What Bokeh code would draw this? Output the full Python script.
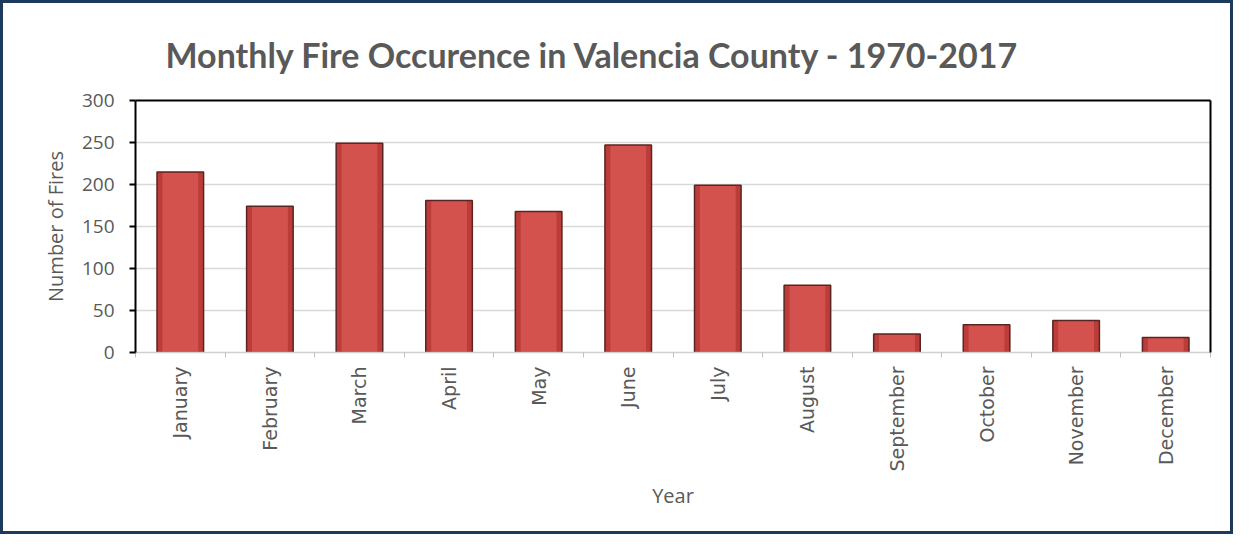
import math
from bokeh.plotting import figure
from bokeh.models import Range1d, FixedTicker, LinearAxis, ColumnDataSource
from bokeh.embed import file_html
from bokeh.resources import INLINE

# ---- data ----
months = ["January", "February", "March", "April", "May", "June", "July",
          "August", "September", "October", "November", "December"]
fires = [215, 174, 249, 181, 168, 247, 199, 80, 22, 33, 38, 18]
y_ticks = [0, 50, 100, 150, 200, 250, 300]
title_text = "Monthly Fire Occurence in Valencia County - 1970-2017"
x_title = "Year"
y_title = "Number of Fires"

centers = [i + 0.5 for i in range(len(months))]
bounds = list(range(len(months) + 1))
src = ColumnDataSource(dict(x=centers, top=fires, month=months))

GRAY = "#595959"

p = figure(width=1233, height=534, output_backend="svg", toolbar_location=None,
           x_range=Range1d(0, len(months)), y_range=Range1d(0, 300),
           min_border_left=132, min_border_right=26, min_border_top=97,
           min_border_bottom=185)
p.styles = {"border": "3px solid #1c3b5c"}
p.background_fill_color = "white"
p.border_fill_color = "white"
p.outline_line_color = None

# title
p.title.text = title_text
p.title.align = "left"
p.title.offset = 30
p.title.text_font = "Lato"
p.title.text_font_style = "bold"
p.title.text_font_size = "34px"
p.title.text_color = GRAY
p.title.standoff = 52

# bars (layered to suggest the bevelled look)
p.vbar(x="x", top="top", width=0.52, bottom=0, source=src,
       fill_color="#bb3c38", line_color=None)
p.vbar(x="x", top="top", width=0.40, bottom=0, source=src,
       fill_color="#d4524d", line_color=None)
p.vbar(x="x", top="top", width=0.52, bottom=0, source=src,
       fill_color=None, line_color="#5a2422", line_width=1.5)

# y axis
p.yaxis.ticker = FixedTicker(ticks=y_ticks)
p.yaxis.axis_line_color = "black"
p.yaxis.axis_line_width = 2
p.yaxis.major_tick_line_color = "black"
p.yaxis.major_tick_line_width = 2
p.yaxis.major_tick_out = 6
p.yaxis.major_tick_in = 0
p.yaxis.minor_tick_line_color = None
p.yaxis.major_label_text_font = "Open Sans"
p.yaxis.major_label_text_font_size = "19px"
p.yaxis.major_label_text_color = GRAY
p.yaxis.major_label_standoff = 15
p.yaxis.axis_label = y_title
p.yaxis.axis_label_text_font = "Open Sans"
p.yaxis.axis_label_text_font_size = "20px"
p.yaxis.axis_label_text_font_style = "normal"
p.yaxis.axis_label_text_color = GRAY
p.yaxis.axis_label_standoff = 10

# x axis
p.xaxis.ticker = FixedTicker(ticks=centers, minor_ticks=bounds)
p.xaxis.major_label_overrides = {c: m for c, m in zip(centers, months)}
p.xaxis.major_label_orientation = math.pi / 2
p.xaxis.major_tick_line_color = None
p.xaxis.minor_tick_line_color = "#bfbfbf"
p.xaxis.minor_tick_out = 5
p.xaxis.minor_tick_in = 0
p.xaxis.axis_line_color = "#d0d0d0"
p.xaxis.axis_line_width = 1.5
p.xaxis.major_label_text_font = "DejaVu Sans"
p.xaxis.major_label_text_font_size = "19px"
p.xaxis.major_label_text_color = GRAY
p.xaxis.major_label_standoff = 8
p.xaxis.axis_label = x_title
p.xaxis.axis_label_text_font = "Open Sans"
p.xaxis.axis_label_text_font_size = "20px"
p.xaxis.axis_label_text_font_style = "normal"
p.xaxis.axis_label_text_color = GRAY
p.xaxis.axis_label_standoff = 7

# frame top & right black borders
for loc in ("above", "right"):
    ax = LinearAxis(ticker=FixedTicker(ticks=[]), axis_line_color="black",
                    axis_line_width=2, major_tick_line_color=None,
                    minor_tick_line_color=None, major_label_text_font_size="0px")
    p.add_layout(ax, loc)

# grid
p.xgrid.grid_line_color = None
p.ygrid.ticker = FixedTicker(ticks=y_ticks)
p.ygrid.grid_line_color = "#d9d9d9"
p.ygrid.grid_line_width = 1.5

open("out.html", "w").write(file_html(p, INLINE))
